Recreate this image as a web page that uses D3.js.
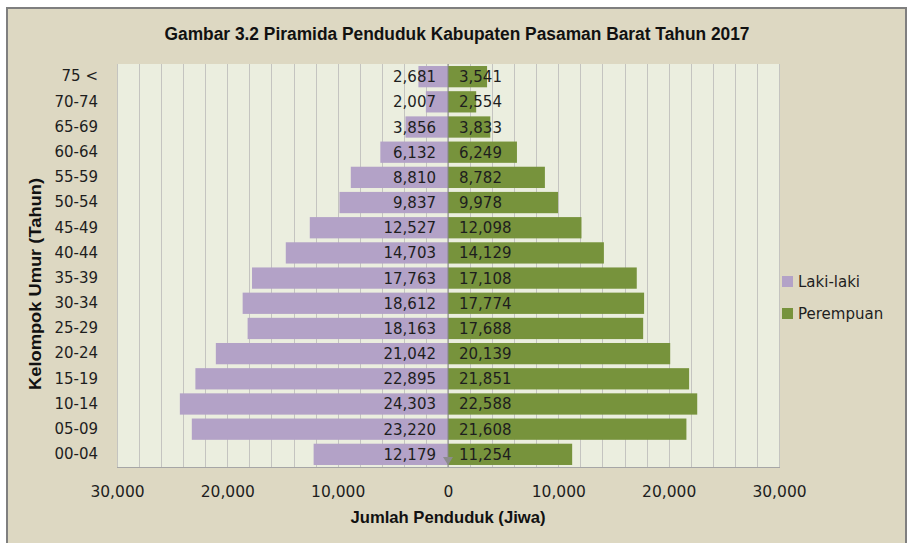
<!DOCTYPE html>
<html>
<head>
<meta charset="utf-8">
<script src="https://cdn.jsdelivr.net/npm/d3@7"></script>
<style>
  html, body { margin: 0; padding: 0; background: #ffffff; }
  svg { display: block; }
</style>
</head>
<body>
<svg id="chart" width="908" height="543"></svg>
<script>
// ---- data ----
const categories = ["75 <", "70-74", "65-69", "60-64", "55-59", "50-54", "45-49", "40-44",
                    "35-39", "30-34", "25-29", "20-24", "15-19", "10-14", "05-09", "00-04"];
const lakiLaki  = [2681, 2007, 3856, 6132, 8810, 9837, 12527, 14703,
                   17763, 18612, 18163, 21042, 22895, 24303, 23220, 12179];
const perempuan = [3541, 2554, 3833, 6249, 8782, 9978, 12098, 14129,
                   17108, 17774, 17688, 20139, 21851, 22588, 21608, 11254];
const seriesNames = ["Laki-laki", "Perempuan"];
const xTicks = [-30000, -20000, -10000, 0, 10000, 20000, 30000];
const titleText = "Gambar 3.2 Piramida Penduduk Kabupaten Pasaman Barat Tahun 2017";
const xTitleText = "Jumlah Penduduk (Jiwa)";
const yTitleText = "Kelompok Umur (Tahun)";

// ---- layout ----
const W = 908, H = 543;
const plot = { left: 117, right: 779, top: 64, bottom: 467 };
const colors = { laki: "#B3A2C7", perempuan: "#77933C" };
const font = "'DejaVu Sans', Verdana, sans-serif";
const titleFont = "'Liberation Sans', Arial, sans-serif";

const svg = d3.select("#chart");

// outer chart background
svg.append("rect").attr("x", 0).attr("y", 0).attr("width", W).attr("height", H).attr("fill", "#ffffff");
svg.append("rect")
  .attr("x", 7).attr("y", 8).attr("width", 899).attr("height", 545)
  .attr("fill", "#DDD8C2").attr("stroke", "#7F7F7F").attr("stroke-width", 2);

// scales
const x = d3.scaleLinear().domain([-30000, 30000]).range([plot.left, plot.right]);
const y = d3.scaleBand().domain(categories).range([plot.top, plot.bottom]).paddingInner(0.155).paddingOuter(0.08);

// plot background
svg.append("rect")
  .attr("x", plot.left).attr("y", plot.top)
  .attr("width", plot.right - plot.left).attr("height", plot.bottom - plot.top)
  .attr("fill", "#EBEEDF");

// vertical gridlines every 2000
const gridVals = d3.range(-30000, 30001, 2000);
svg.append("g").selectAll("line").data(gridVals).join("line")
  .attr("x1", d => Math.round(x(d)) + 0.5).attr("x2", d => Math.round(x(d)) + 0.5)
  .attr("y1", plot.top).attr("y2", plot.bottom)
  .attr("stroke", "#C4C4C0").attr("stroke-width", 1);

// bottom plot edge
svg.append("line")
  .attr("x1", plot.left).attr("x2", plot.right + 1)
  .attr("y1", plot.bottom + 0.5).attr("y2", plot.bottom + 0.5)
  .attr("stroke", "#A6A6A6").attr("stroke-width", 1);

// bars
const rows = categories.map((c, i) => ({ c, l: lakiLaki[i], p: perempuan[i] }));
const bars = svg.append("g");
bars.selectAll("rect.l").data(rows).join("rect")
  .attr("class", "l")
  .attr("x", d => x(-d.l)).attr("width", d => x(0) - x(-d.l))
  .attr("y", d => y(d.c)).attr("height", y.bandwidth())
  .attr("fill", colors.laki);
bars.selectAll("rect.p").data(rows).join("rect")
  .attr("class", "p")
  .attr("x", x(0)).attr("width", d => x(d.p) - x(0))
  .attr("y", d => y(d.c)).attr("height", y.bandwidth())
  .attr("fill", colors.perempuan);

// zero axis line
svg.append("line")
  .attr("x1", x(0)).attr("x2", x(0))
  .attr("y1", plot.top).attr("y2", plot.bottom)
  .attr("stroke", "#868686").attr("stroke-width", 1);
// small arrow at bottom of zero line
svg.append("path")
  .attr("d", `M${x(0) - 5},${plot.bottom - 10} L${x(0) + 5},${plot.bottom - 10} L${x(0)},${plot.bottom - 2} Z`)
  .attr("fill", "#8C8C8C");

// data labels
const fmt = d3.format(",");
const lbl = svg.append("g").attr("font-family", font).attr("font-size", 15).attr("fill", "#1E1E1E");
lbl.selectAll("text.l").data(rows).join("text")
  .attr("class", "l")
  .attr("x", x(0) - 12).attr("y", d => y(d.c) + y.bandwidth() / 2 + 5.5)
  .attr("text-anchor", "end").text(d => fmt(d.l));
lbl.selectAll("text.p").data(rows).join("text")
  .attr("class", "p")
  .attr("x", x(0) + 11).attr("y", d => y(d.c) + y.bandwidth() / 2 + 5.5)
  .attr("text-anchor", "start").text(d => fmt(d.p));

// category axis labels
const yAxis = d3.axisLeft(y).tickSize(0).tickPadding(19);
const gy = svg.append("g").attr("transform", `translate(${plot.left},0)`).call(yAxis);
gy.select(".domain").remove();
gy.selectAll("text").attr("font-family", font).attr("font-size", 15).attr("fill", "#1E1E1E");

// value axis labels
const xAxis = d3.axisBottom(x).tickValues(xTicks).tickSize(0).tickPadding(0)
  .tickFormat(d => fmt(Math.abs(d)));
const gx = svg.append("g").attr("transform", `translate(0,${plot.bottom})`).call(xAxis);
gx.select(".domain").remove();
gx.selectAll("text").attr("font-family", font).attr("font-size", 15.5).attr("fill", "#1E1E1E")
  .attr("dy", null).attr("y", 30);

// title
svg.append("text")
  .attr("x", 457).attr("y", 40).attr("text-anchor", "middle")
  .attr("font-family", titleFont).attr("font-weight", "bold").attr("font-size", 17.5)
  .attr("textLength", 585).attr("lengthAdjust", "spacingAndGlyphs")
  .attr("fill", "#111").text(titleText);

// x title
svg.append("text")
  .attr("x", 448).attr("y", 523).attr("text-anchor", "middle")
  .attr("font-family", titleFont).attr("font-weight", "bold").attr("font-size", 17)
  .attr("textLength", 195).attr("lengthAdjust", "spacingAndGlyphs")
  .attr("fill", "#111").text(xTitleText);

// y title
svg.append("text")
  .attr("transform", "translate(41,284) rotate(-90)")
  .attr("text-anchor", "middle")
  .attr("font-family", titleFont).attr("font-weight", "bold").attr("font-size", 17)
  .attr("textLength", 212).attr("lengthAdjust", "spacingAndGlyphs")
  .attr("fill", "#111").text(yTitleText);

// legend
const legend = svg.append("g").attr("font-family", font).attr("font-size", 15).attr("fill", "#1E1E1E");
const legendItems = [{ name: seriesNames[0], color: colors.laki }, { name: seriesNames[1], color: colors.perempuan }];
const ly = d3.scalePoint().domain(seriesNames).range([276, 308]);
legend.selectAll("rect").data(legendItems).join("rect")
  .attr("x", 782).attr("y", d => ly(d.name)).attr("width", 11).attr("height", 11)
  .attr("fill", d => d.color);
legend.selectAll("text").data(legendItems).join("text")
  .attr("x", 798).attr("y", d => ly(d.name) + 11).text(d => d.name);
</script>
</body>
</html>
